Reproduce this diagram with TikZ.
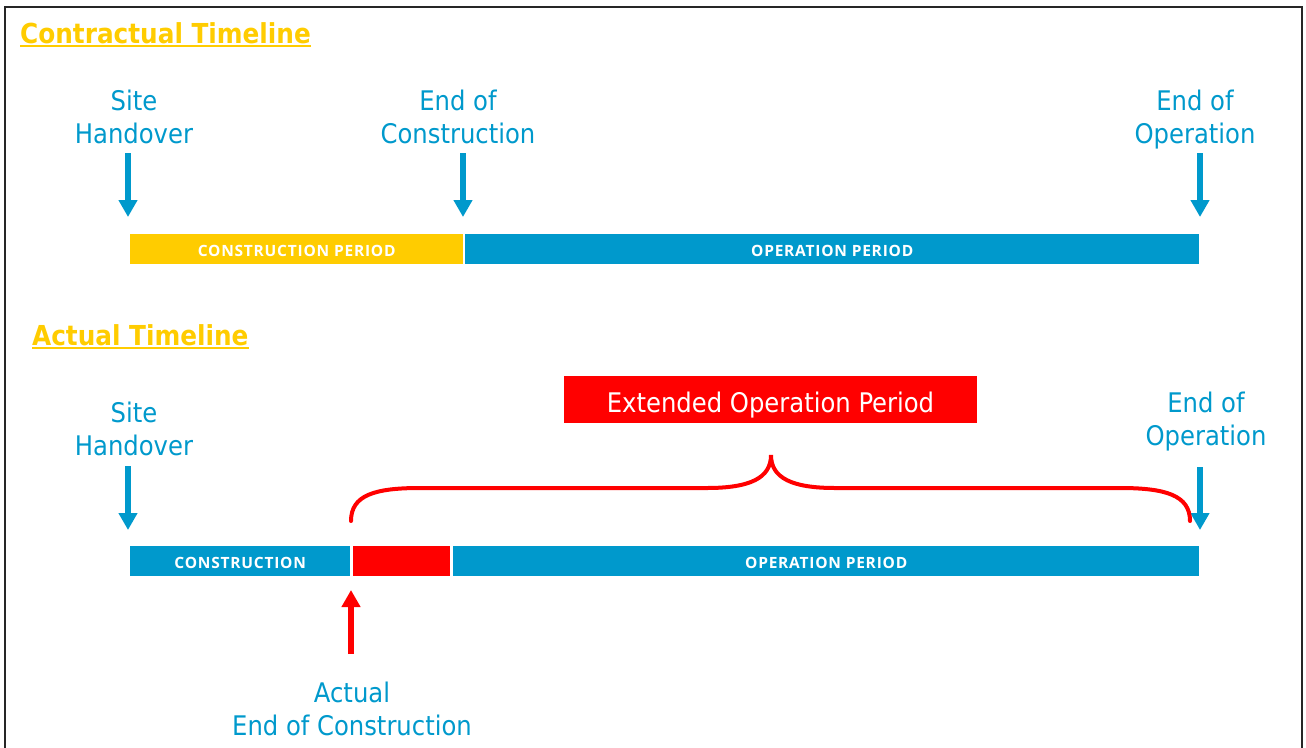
\documentclass[tikz,border=0pt]{standalone}
\usepackage{fontspec}
\usetikzlibrary{arrows.meta}
\IfFontExistsTF{DejaVu Sans Condensed}{\newfontfamily\lblfont{DejaVu Sans Condensed}}{\newfontfamily\lblfont{DejaVu Sans}}
\newfontfamily\barfont{Open Sans}[LetterSpace=5]
\definecolor{tlblue}{HTML}{0099CC}
\definecolor{tlyellow}{HTML}{FFCC00}
\definecolor{tlred}{HTML}{FF0000}
\begin{document}
\begin{tikzpicture}[x=1pt,y=-1pt,
  lbl/.style={font=\lblfont\fontsize{27}{33}\selectfont, text=tlblue, align=center, inner sep=0pt},
  ttl/.style={font=\lblfont\bfseries\fontsize{27.5}{32}\selectfont, text=tlyellow, anchor=base west, inner sep=0pt},
  barlbl/.style={font=\barfont\bfseries\fontsize{15.5}{17}\selectfont, text=white, inner sep=0pt, anchor=north west,
    minimum height=30pt, text height=14pt, text depth=0pt},
  blarrow/.style={draw=tlblue, line width=6pt, -{Triangle[width=18pt,length=17pt]}},
  rdarrow/.style={draw=tlred, line width=6pt, -{Triangle[width=18pt,length=17pt]}},
  bracestyle/.style={draw=tlred, line width=4pt, line cap=round}
]
\useasboundingbox (0,0) rectangle (1306,747);
\draw[line width=2pt, black!85] (5,7) rectangle (1302,780);

% ---- Contractual timeline
\node[ttl] (t1) at (20,43) {Contractual Timeline};
\draw[tlyellow, line width=2.5pt] (t1.base west) ++(0,3) -- ([yshift=-3pt]t1.base east);

\node[lbl] (sh1) at (134,117) {Site\\Handover};
\node[lbl] (ec1) at (458,117) {End of\\Construction};
\node[lbl] (eo1) at (1195,120) {End of\\Operation};

\coordinate (a1s) at (128,153); \coordinate (a1e) at (128,217);
\coordinate (a2s) at (463,153); \coordinate (a2e) at (463,217);
\coordinate (a3s) at (1200,153); \coordinate (a3e) at (1200,217);
\draw[blarrow] (a1s) -- (a1e);
\draw[blarrow] (a2s) -- (a2e);
\draw[blarrow] (a3s) -- (a3e);

\node[barlbl, fill=tlyellow, minimum width=333pt] (cp1) at (130,234) {CONSTRUCTION PERIOD};
\node[barlbl, fill=tlblue, minimum width=734pt] (op1) at (465,234) {OPERATION PERIOD};

% ---- Actual timeline
\node[ttl] (t2) at (32,345) {Actual Timeline};
\draw[tlyellow, line width=2.5pt] (t2.base west) ++(0,3) -- ([yshift=-3pt]t2.base east);

\node[lbl] (sh2) at (134,429) {Site\\Handover};
\node[lbl] (eo2) at (1206,422) {End of\\Operation};

\node[fill=tlred, minimum width=413pt, minimum height=47pt, inner sep=0pt,
      text height=25pt, text depth=0pt,
      font=\lblfont\fontsize{27}{33}\selectfont, text=white] (ext) at (770.5,399.5) {Extended Operation Period};

\coordinate (b1s) at (128,466); \coordinate (b1e) at (128,530);
\coordinate (b2s) at (1200,467); \coordinate (b2e) at (1200,530);
\draw[blarrow] (b1s) -- (b1e);
\draw[blarrow] (b2s) -- (b2e);

\coordinate (brL) at (351,521);
\coordinate (brT) at (771,455);
\coordinate (brR) at (1190,521);
\draw[bracestyle] (brL) .. controls (351,495) and (375,488) .. (420,488) -- (707,488)
  .. controls (750,488) and (771,478) .. (brT)
  .. controls (771,478) and (792,488) .. (835,488) -- (1120,488)
  .. controls (1165,488) and (1190,495) .. (brR);

\node[barlbl, fill=tlblue, minimum width=220pt] (cp2) at (130,546) {CONSTRUCTION};
\node[barlbl, fill=tlred, minimum width=97pt] (ex2) at (353,546) {};
\node[barlbl, fill=tlblue, minimum width=746pt] (op2) at (453,546) {OPERATION PERIOD};

\coordinate (rs) at (351,654); \coordinate (re) at (351,590);
\draw[rdarrow] (rs) -- (re);

\node[lbl] (aec) at (352,709) {Actual\\End of Construction};
\end{tikzpicture}
\end{document}
